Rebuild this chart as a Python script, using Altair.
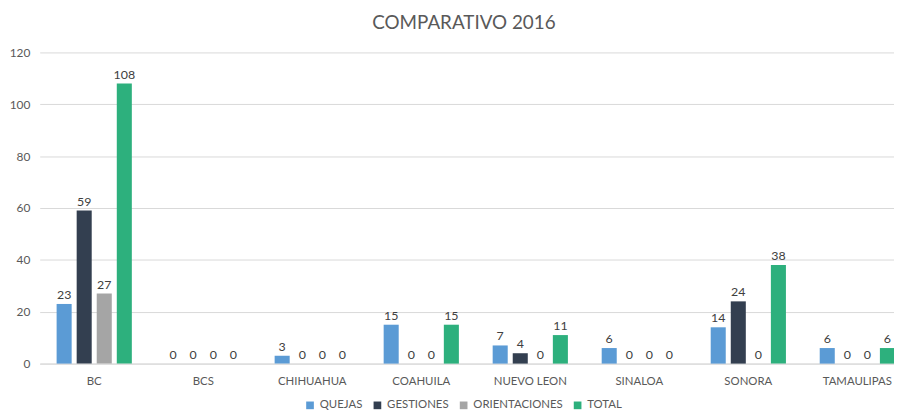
import altair as alt
import pandas as pd

categories = ["BC", "BCS", "CHIHUAHUA", "COAHUILA", "NUEVO LEON", "SINALOA", "SONORA", "TAMAULIPAS"]
series = ["QUEJAS", "GESTIONES", "ORIENTACIONES", "TOTAL"]
quejas = [23, 0, 3, 15, 7, 6, 14, 6]
gestiones = [59, 0, 0, 0, 4, 0, 24, 0]
orientaciones = [27, 0, 0, 0, 0, 0, 0, 0]
total = [108, 0, 0, 15, 11, 0, 38, 6]
colors = ["#5B9BD5", "#333F50", "#A5A5A5", "#2DB07D"]

rows = []
for s, vals in zip(series, [quejas, gestiones, orientaciones, total]):
    for c, v in zip(categories, vals):
        rows.append({"estado": c, "serie": s, "valor": v})
df = pd.DataFrame(rows)

FONT = "Lato"

x = alt.X("estado:N", sort=categories, title=None,
          scale=alt.Scale(paddingInner=0.31, paddingOuter=0.155, range=[0, 880]),
          axis=alt.Axis(labelAngle=0, labelColor="#595959", labelFontSize=11.5,
                        labelFont=FONT, ticks=False, domainColor="#D9D9D9",
                        labelPadding=12, grid=False))
xo = alt.XOffset("serie:N", sort=series, scale=alt.Scale(paddingInner=0.25))
y = alt.Y("valor:Q", title=None,
          scale=alt.Scale(domain=[0, 120]),
          axis=alt.Axis(values=[0, 20, 40, 60, 80, 100, 120], labelColor="#595959",
                        labelFontSize=12, labelFont=FONT, ticks=False, domain=False,
                        gridColor="#D9D9D9", labelPadding=10))

base = alt.Chart(df)
bars = base.mark_bar().encode(
    x=x, xOffset=xo, y=y,
    color=alt.Color("serie:N", sort=series,
                    scale=alt.Scale(domain=series, range=colors),
                    legend=alt.Legend(title=None, orient="none", direction="horizontal",
                                      legendX=267, legendY=350, symbolType="square",
                                      symbolSize=60, labelFontSize=11.5, labelFont=FONT,
                                      labelColor="#595959", columnPadding=9,
                                      labelOffset=4, symbolStrokeWidth=0))
)
labels = base.mark_text(dy=-9, fontSize=12.5, font=FONT, color="#404040").encode(
    x=x, xOffset=xo, y=y, text="valor:Q"
)

chart = (bars + labels).properties(
    width=856, height=314,
    title=alt.TitleParams("COMPARATIVO 2016", fontSize=19, font=FONT, fontWeight="normal",
                          color="#595959", offset=14),
    autosize=alt.AutoSizeParams(type="none"),
    padding={"left": 32, "top": 43, "right": 6, "bottom": 45},
).configure_view(stroke=None)

chart.save("out.html", embed_options={"renderer": "svg", "actions": False})
